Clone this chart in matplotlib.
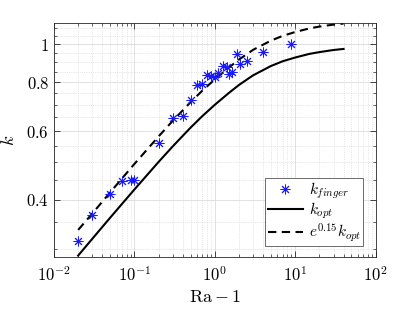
import numpy as np
import matplotlib
matplotlib.use("Agg")
import matplotlib.pyplot as plt
from matplotlib.ticker import FixedLocator, NullFormatter, LogLocator

# ---------- data ----------
ra_finger = [0.02, 0.03, 0.05, 0.07, 0.09, 0.1, 0.2, 0.3, 0.4, 0.5, 0.6, 0.7,
             0.8, 0.9, 1.0, 1.1, 1.25, 1.4, 1.5, 1.65, 1.9, 2.05, 2.5, 4.0, 9.0]
k_finger = [0.313, 0.366, 0.414, 0.448, 0.450, 0.450, 0.559, 0.647, 0.654, 0.722,
            0.786, 0.790, 0.833, 0.830, 0.824, 0.843, 0.880, 0.877, 0.840, 0.851,
            0.943, 0.889, 0.906, 0.954, 1.000]

ra_opt = [0.02, 0.03, 0.05, 0.1, 0.2, 0.3, 0.5, 0.7, 1.0, 1.5, 2.0, 3.0,
          5.0, 7.0, 10.0, 15.0, 20.0, 30.0, 40.0]
k_opt = [0.288, 0.318, 0.360, 0.425, 0.500, 0.548, 0.612, 0.655, 0.700, 0.751,
         0.787, 0.833, 0.880, 0.905, 0.925, 0.945, 0.955, 0.967, 0.973]
# e^0.15 * k_opt
k_opt_shift = [0.335, 0.369, 0.418, 0.494, 0.581, 0.637, 0.711, 0.761, 0.813, 0.872,
               0.914, 0.968, 1.022, 1.051, 1.075, 1.098, 1.110, 1.123, 1.130]

xticks = [1e-2, 1e-1, 1e0, 1e1, 1e2]
xticklabels = [r'$10^{-2}$', r'$10^{-1}$', r'$10^{0}$', r'$10^{1}$', r'$10^{2}$']
yticks = [0.4, 0.6, 0.8, 1.0]
yticklabels = ['$0.4$', '$0.6$', '$0.8$', '$1$']
yminor = [0.3, 0.35, 0.45, 0.5, 0.55, 0.65, 0.7, 0.75, 0.85, 0.9, 0.95, 1.05, 1.1]

# ---------- style ----------
plt.rcParams['mathtext.fontset'] = 'cm'
plt.rcParams['font.family'] = 'serif'
plt.rcParams['font.serif'] = ['DejaVu Serif']

fig = plt.figure(figsize=(4.15, 3.12), dpi=100)
ax = fig.add_axes([0.130, 0.177, 0.775, 0.748])

ax.plot(ra_finger, k_finger, linestyle='none', marker=(8, 2, 0), ms=7, mew=0.7,
        color=(0.1, 0.1, 1), label=r'$k_{finger}$', zorder=3)
ax.plot(ra_opt, k_opt, color='black', lw=1.5, label=r'$k_{opt}$')
ax.plot(ra_opt, k_opt_shift, color='black', lw=1.5, dashes=(4, 2.6),
        label=r'$e^{0.15}k_{opt}$')

ax.set_xscale('log')
ax.set_yscale('log')
ax.set_xlim(1e-2, 1e2)
ax.set_ylim(0.286, 1.131)

ax.xaxis.set_major_locator(FixedLocator(xticks))
ax.set_xticklabels(xticklabels)
ax.xaxis.set_minor_locator(LogLocator(base=10, subs=np.arange(2, 10), numticks=20))
ax.xaxis.set_minor_formatter(NullFormatter())

ax.yaxis.set_major_locator(FixedLocator(yticks))
ax.set_yticklabels(yticklabels)
ax.yaxis.set_minor_locator(FixedLocator(yminor))
ax.yaxis.set_minor_formatter(NullFormatter())

ax.tick_params(which='both', direction='in', top=True, right=True,
               color='#262626', labelsize=12)
ax.tick_params(which='major', length=4, width=0.6)
ax.tick_params(which='minor', length=2.2, width=0.5)
ax.tick_params(axis='x', pad=7)

ax.grid(True, which='major', color='#dcdcdc', lw=0.6, ls='-')
ax.grid(True, which='minor', color='#d0d0d0', lw=0.5, ls=':')
ax.set_axisbelow(True)
for s in ax.spines.values():
    s.set_color('#262626')
    s.set_linewidth(0.6)

ax.set_xlabel(r'$\mathrm{Ra}-1$', fontsize=13, labelpad=2)
ax.set_ylabel(r'$k$', fontsize=13, labelpad=6)

leg = ax.legend(loc='lower right', fontsize=11, fancybox=False, framealpha=1,
                edgecolor='#555555', borderpad=0.15, labelspacing=0.0,
                handlelength=2.3, handletextpad=0.4, borderaxespad=0,
                bbox_to_anchor=(0.962, 0.045))
leg.get_frame().set_linewidth(0.6)

fig.savefig('out.png', dpi=100)
